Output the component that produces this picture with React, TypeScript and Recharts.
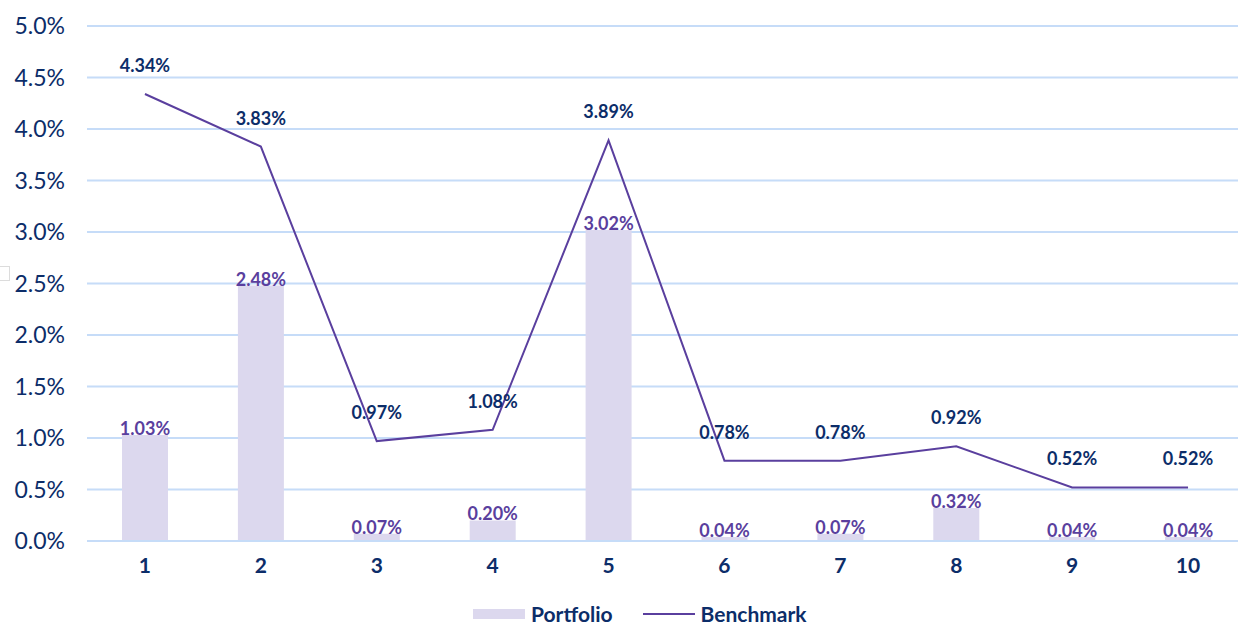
import React from "react";
import {
  ComposedChart,
  Bar,
  Line,
  XAxis,
  YAxis,
  CartesianGrid,
  LabelList,
} from "recharts";

const deciles = ["1", "2", "3", "4", "5", "6", "7", "8", "9", "10"];
const portfolio = [1.03, 2.48, 0.07, 0.2, 3.02, 0.04, 0.07, 0.32, 0.04, 0.04];
const benchmark = [4.34, 3.83, 0.97, 1.08, 3.89, 0.78, 0.78, 0.92, 0.52, 0.52];
const yTicks = [0, 0.5, 1, 1.5, 2, 2.5, 3, 3.5, 4, 4.5, 5];

const NAVY = "#0c2d69";
const PURPLE = "#5a3f9e";
const BAR_FILL = "#dcd8ee";
const GRID = "#c6dcf8";
const FONT = "Lato, 'Open Sans', sans-serif";

const data = deciles.map((d, i) => ({
  decile: d,
  portfolio: portfolio[i],
  benchmark: benchmark[i],
}));

const pct = (v: number) => `${v.toFixed(2)}%`;

// legend sits below the chart, partly clipped by the frame
function LegendRow() {
  return (
    <div
      style={{
        position: "absolute",
        left: 473,
        top: 601,
        display: "flex",
        alignItems: "center",
        fontFamily: FONT,
        fontWeight: 700,
        fontSize: 21,
        lineHeight: "26px",
        color: NAVY,
        whiteSpace: "nowrap",
      }}
    >
      <span
        style={{ width: 52, height: 10, background: BAR_FILL, marginRight: 6 }}
      />
      <span style={{ marginRight: 30 }}>Portfolio</span>
      <span
        style={{ width: 52, height: 2, background: PURPLE, marginRight: 6 }}
      />
      <span>Benchmark</span>
    </div>
  );
}

export default function App() {
  return (
    <div
      style={{
        position: "absolute",
        left: 0,
        top: 0,
        width: 1238,
        height: 622,
        overflow: "hidden",
        background: "#fff",
      }}
    >
      <div
        style={{
          position: "absolute",
          left: -5,
          top: 266,
          width: 13,
          height: 13,
          border: "1px solid #dcdcdc",
        }}
      />
      <ComposedChart
        width={1250}
        height={580}
        data={data}
        margin={{ top: 26, right: 4, bottom: 9, left: 0 }}
      >
        <CartesianGrid vertical={false} stroke={GRID} strokeWidth={2} />
        <XAxis
          dataKey="decile"
          height={30}
          axisLine={{ stroke: GRID, strokeWidth: 2 }}
          tickLine={false}
          tickMargin={11}
          tick={{ fill: NAVY, fontSize: 21, fontWeight: 700, fontFamily: FONT }}
        />
        <YAxis
          width={87}
          domain={[0, 5]}
          ticks={yTicks}
          axisLine={false}
          tickLine={false}
          tickMargin={16}
          tickFormatter={(v: number) => `${v.toFixed(1)}%`}
          tick={{ fill: NAVY, fontSize: 23, fontFamily: FONT }}
        />
        <Bar
          dataKey="portfolio"
          name="Portfolio"
          fill={BAR_FILL}
          barSize={46}
          isAnimationActive={false}
        >
          <LabelList
            dataKey="portfolio"
            position="top"
            offset={0}
            formatter={(v: any) => pct(Number(v))}
            style={{
              fill: PURPLE,
              fontSize: 18,
              fontWeight: 700,
              fontFamily: FONT,
            }}
          />
        </Bar>
        <Line
          dataKey="benchmark"
          name="Benchmark"
          stroke={PURPLE}
          strokeWidth={2}
          dot={false}
          activeDot={false}
          isAnimationActive={false}
        >
          <LabelList
            dataKey="benchmark"
            position="top"
            offset={22}
            formatter={(v: any) => pct(Number(v))}
            style={{
              fill: NAVY,
              fontSize: 18,
              fontWeight: 700,
              fontFamily: FONT,
            }}
          />
        </Line>
      </ComposedChart>
      <LegendRow />
    </div>
  );
}
